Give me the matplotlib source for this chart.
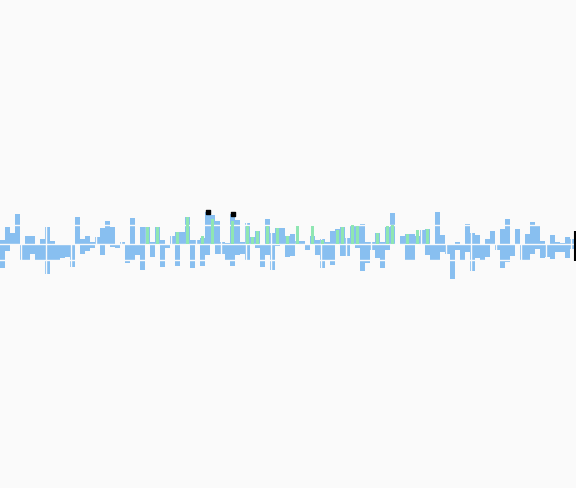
import numpy as np
import matplotlib
matplotlib.use('Agg')
import matplotlib.pyplot as plt

# upper part of each bar (above the zero line)
up_vals = [4, 17, 11, 30, 0, 8, 8, 0, 5, 17, 3, 0, 0, 0, 0, 27, 5, 8, 2, 7,
           16, 23, 17, 0, 2, 0, 26, 0, 17, 17, 2, 17, 4, 0, 8, 12, 12, 27, 4, 4,
           6, 32, 29, 23, 2, 1, 30, 24, 2, 21, 7, 13, 0, 25, 11, 16, 16, 8, 10, 3,
           3, 0, 8, 4, 5, 2, 13, 15, 17, 6, 19, 18, 20, 2, 2, 11, 2, 17, 31, 0,
           8, 10, 10, 8, 14, 15, 0, 32, 9, 0, 0, 2, 0, 20, 11, 9, 0, 5, 13, 0,
           15, 25, 0, 15, 0, 10, 22, 18, 3, 0, 9, 2, 1, 7, 5]
# lower part of each bar (below the zero line)
down_vals = [24, 7, 0, 0, 16, 16, 10, 16, 16, 30, 16, 16, 14, 13, 23, 1, 10, 7, 4, 1,
             11, 0, 3, 4, 1, 19, 16, 11, 26, 1, 13, 1, 23, 4, 1, 22, 1, 1, 24, 1,
             22, 11, 1, 10, 10, 16, 22, 11, 10, 16, 1, 4, 23, 11, 26, 2, 1, 13, 12, 1,
             1, 6, 1, 11, 24, 16, 21, 1, 12, 12, 1, 4, 27, 19, 6, 14, 24, 6, 1, 1,
             1, 17, 16, 1, 1, 11, 16, 16, 8, 10, 35, 6, 17, 8, 27, 14, 16, 13, 1, 6,
             24, 18, 12, 1, 17, 17, 10, 5, 14, 13, 15, 8, 8, 14, 5]
# second series drawn in green
green_idx = [29, 31, 35, 37, 40, 42, 46, 49, 50, 51, 53, 55, 57, 59, 62, 64,
             67, 68, 70, 71, 75, 77, 78, 81, 83, 85]
green_vals = [17, 17, 12, 27, 8, 25, 23, 18, 7, 13, 18, 16, 8, 18, 18, 4,
              14, 17, 19, 18, 11, 18, 19, 10, 14, 15]
# black markers
mark_idx = [41, 46]
mark_vals = [32, 30]

x = np.arange(len(up_vals))

fig = plt.figure(figsize=(5.76, 4.88), dpi=100, facecolor='#fafafa')
ax = fig.add_axes([0, 0, 1, 1])
ax.set_facecolor('#fafafa')

ax.bar(x, up_vals, width=1.0, color='#88bff0', zorder=2)
ax.bar(x, [-v for v in down_vals], width=1.0, color='#88bff0', zorder=2)
ax.bar(green_idx, green_vals, width=0.6, color='#8fe6b2', zorder=3)
ax.scatter(mark_idx, mark_vals, marker='s', s=10, color='black', zorder=4)
ax.vlines(len(up_vals) - 0.45, -17, 13, color='black', lw=1.5, zorder=4)

# grid in the background colour, so it only shows across the bars
ax.set_yticks([19, 0, -16])
ax.set_xticks(np.arange(3.7, len(up_vals), 5))
ax.grid(True, color='#fafafa', lw=1.0, zorder=5)
ax.set_axisbelow(False)
ax.tick_params(length=0, labelleft=False, labelbottom=False)
for s in ax.spines.values():
    s.set_visible(False)

ax.set_xlim(-0.5, 114.7)
ax.set_ylim(-244, 244)

fig.savefig('out.png', dpi=100, facecolor='#fafafa')
